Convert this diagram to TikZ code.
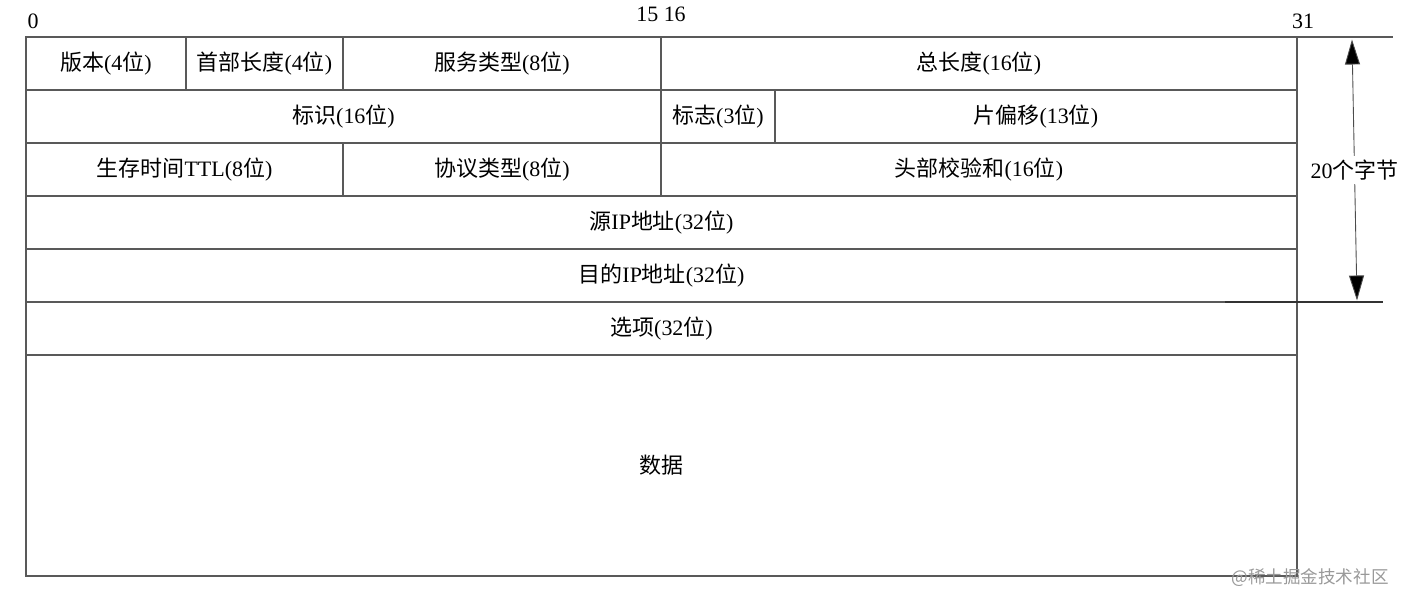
\documentclass[tikz,border=0pt]{standalone}
\usepackage{fontspec}
\setmainfont{Liberation Serif}
\newfontfamily\cjk{Noto Sans CJK SC}
\usetikzlibrary{arrows.meta}
\newcommand{\zh}[1]{{\cjk #1}}
\begin{document}
\begin{tikzpicture}[cell/.style={draw=black!65, line width=0.6pt, inner sep=0pt, outer sep=0pt, minimum height=1.06cm, font=\fontsize{12.5}{15}\selectfont}]
\useasboundingbox (0,0) rectangle (28.14,12.12);
\node[cell,minimum width=3.20cm] (ver) at (2.12,10.85) {\zh{版本}(4\zh{位})};
\node[cell,minimum width=3.14cm] (ihl) at (5.29,10.85) {\zh{首部长度}(4\zh{位})};
\node[cell,minimum width=6.36cm] (tos) at (10.04,10.85) {\zh{服务类型}(8\zh{位})};
\node[cell,minimum width=12.72cm] (len) at (19.58,10.85) {\zh{总长度}(16\zh{位})};

\node[cell,minimum width=12.70cm] (id) at (6.87,9.79) {\zh{标识}(16\zh{位})};
\node[cell,minimum width=2.28cm] (flag) at (14.36,9.79) {\zh{标志}(3\zh{位})};
\node[cell,minimum width=10.44cm] (frag) at (20.72,9.79) {\zh{片偏移}(13\zh{位})};

\node[cell,minimum width=6.34cm] (ttl) at (3.69,8.73) {\zh{生存时间}TTL(8\zh{位})};
\node[cell,minimum width=6.36cm] (proto) at (10.04,8.73) {\zh{协议类型}(8\zh{位})};
\node[cell,minimum width=12.72cm] (csum) at (19.58,8.73) {\zh{头部校验和}(16\zh{位})};

\node[cell,minimum width=25.42cm] (src) at (13.23,7.67) {\zh{源}IP\zh{地址}(32\zh{位})};
\node[cell,minimum width=25.42cm] (dst) at (13.23,6.61) {\zh{目的}IP\zh{地址}(32\zh{位})};
\node[cell,minimum width=25.42cm] (opt) at (13.23,5.55) {\zh{选项}(32\zh{位})};
\node[cell,minimum width=25.42cm,minimum height=4.42cm] (data) at (13.23,2.81) {\zh{数据}};

\node[font=\fontsize{12.5}{15}\selectfont] (b0) at (0.66,11.70) {0};
\node[font=\fontsize{12.5}{15}\selectfont] (b15) at (13.22,11.84) {15 16};
\node[font=\fontsize{12.5}{15}\selectfont] (b31) at (26.06,11.70) {31};

\coordinate (topend) at (27.86,11.38);
\coordinate (botstart) at (24.50,6.08);
\coordinate (botend) at (27.66,6.08);
\draw[black!65,line width=0.6pt] (len.north east) -- (topend);
\draw[black!80,line width=0.6pt] (botstart) -- (botend);

\coordinate (atop) at (27.04,11.33);
\coordinate (abot) at (27.14,6.11);
\draw[draw=black!70,line width=0.5pt,{Triangle[length=0.5cm,width=0.3cm,fill=black]}-{Triangle[length=0.5cm,width=0.3cm,fill=black]}] (atop) -- node[fill=white,text=black,inner sep=2pt,font=\fontsize{12.5}{15}\selectfont] (size) {20\zh{个字节}} (abot);

\node[text=black!40,font=\cjk\fontsize{10}{12}\selectfont] (mark) at (26.20,0.56) {@稀土掘金技术社区};
\end{tikzpicture}
\end{document}
